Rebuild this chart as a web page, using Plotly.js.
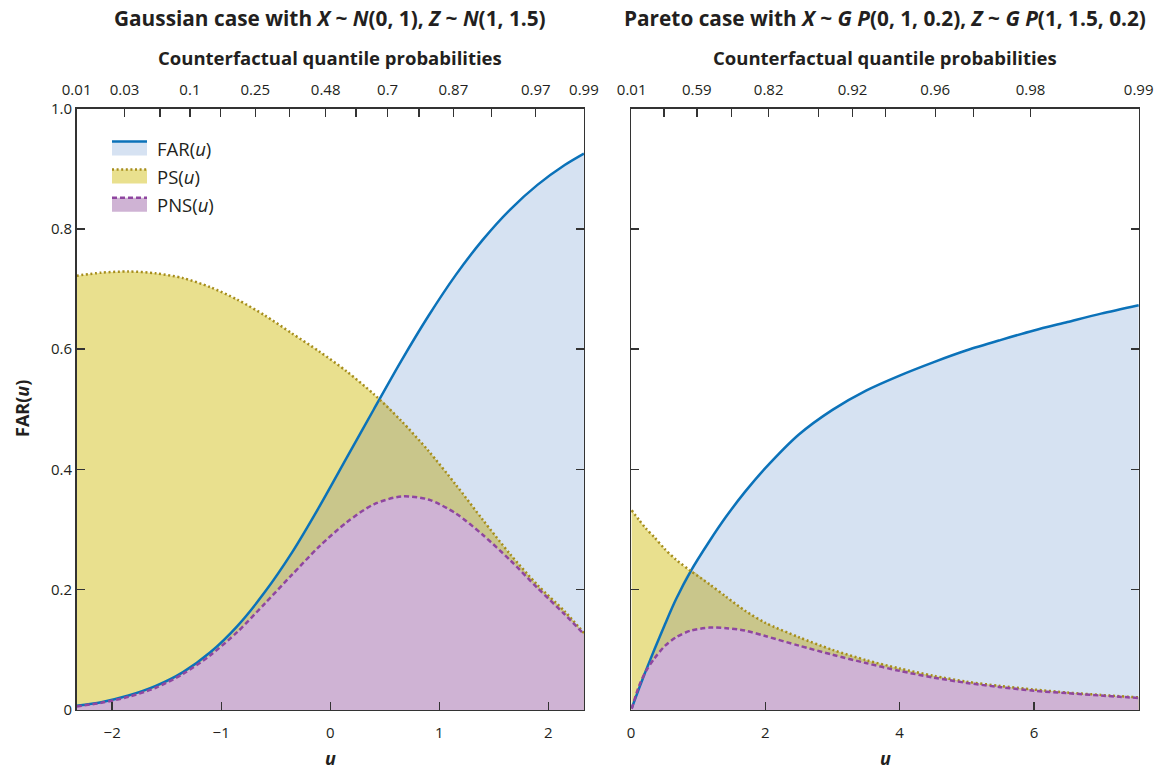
<!DOCTYPE html>
<html><head><meta charset="utf-8">
<script src="https://cdn.plot.ly/plotly-3.0.1.min.js"></script>
<style>html,body{margin:0;padding:0;background:#fff}#chart{width:1164px;height:772px}</style>
</head><body><div id="chart"></div>
<script>
// ---- Gaussian case (left panel) ----
const gaussU   = [-2.326,-2.1,-1.85,-1.6,-1.35,-1.1,-0.85,-0.6,-0.35,-0.1,0.15,0.4,0.65,0.9,1.15,1.4,1.65,1.9,2.15,2.326];
const gaussFAR = [0.007,0.013,0.024,0.040,0.063,0.096,0.140,0.196,0.262,0.338,0.419,0.500,0.580,0.655,0.723,0.782,0.832,0.873,0.906,0.925];
const gaussPS  = [0.722,0.727,0.729,0.726,0.718,0.703,0.682,0.656,0.626,0.596,0.563,0.525,0.481,0.431,0.375,0.316,0.259,0.208,0.164,0.128];
const gaussPNS = [0.006,0.012,0.022,0.037,0.060,0.091,0.130,0.177,0.225,0.272,0.312,0.342,0.355,0.350,0.327,0.291,0.249,0.203,0.159,0.126];

// ---- Pareto case (right panel) ----
const paretoU   = [0.01,0.12,0.22,0.35,0.5,0.67,0.89,1.17,1.42,1.7,2.0,2.5,3.0,3.5,4.0,4.5,5.0,5.5,6.0,6.5,7.0,7.56];
const paretoFAR = [0.003,0.036,0.065,0.101,0.141,0.184,0.231,0.281,0.322,0.363,0.402,0.458,0.499,0.531,0.556,0.578,0.598,0.615,0.631,0.645,0.659,0.673];
const paretoPS  = [0.332,0.316,0.302,0.287,0.268,0.250,0.231,0.209,0.188,0.165,0.145,0.121,0.100,0.083,0.069,0.057,0.047,0.040,0.034,0.029,0.025,0.021];
const paretoPNS = [0.002,0.040,0.064,0.086,0.106,0.121,0.132,0.137,0.136,0.132,0.123,0.107,0.092,0.078,0.065,0.054,0.045,0.038,0.032,0.028,0.024,0.020];

// ---- axis ticks ----
const yTickVals = [0,0.2,0.4,0.6,0.8,1.0];
const yTickText = ['0','0.2','0.4','0.6','0.8','1.0'];
const gaussBottomVals = [-2,-1,0,1,2];
const gaussBottomText = ['\u22122','\u22121','0','1','2'];
const paretoBottomVals = [0,2,4,6];
const paretoBottomText = ['0','2','4','6'];
const gaussTopVals = [-2.326,-1.887,-1.563,-1.287,-1.005,-0.687,-0.372,-0.042,0.237,0.526,0.815,1.129,1.479,1.885,2.326];
const gaussTopText = ['0.01','0.03','','0.1','','0.25','','0.48','','0.7','','0.87','','0.97','0.99'];
const paretoTopVals = [0.01,0.49,0.98,1.50,2.05,2.79,3.30,3.79,4.53,5.10,5.95,7.56];
const paretoTopText = ['0.01','','0.59','','0.82','','0.92','','0.96','','0.98','0.99'];

const C = {
  farLine:'#0b72b9', farFill:'#d6e2f2',
  psLine:'#a68d1c', psFill:'#e9e08e',
  overlap:'#c9c68b',
  pnsLine:'#8f46a0', pnsFill:'#cfb3d4'
};
const FONT = '"Open Sans", "Noto Sans", sans-serif';
const TXT = '#231f20';

function lowerEnvelope(x, a, b){
  const xs=[], ys=[];
  for(let i=0;i<x.length;i++){
    xs.push(x[i]); ys.push(Math.min(a[i],b[i]));
    if(i<x.length-1){
      const d0=a[i]-b[i], d1=a[i+1]-b[i+1];
      if(d0*d1<0){
        const t=d0/(d0-d1);
        xs.push(x[i]+t*(x[i+1]-x[i])); ys.push(a[i]+t*(a[i+1]-a[i]));
      }
    }
  }
  return {x:xs,y:ys};
}

const SM = 0.8;
function panel(u, far, ps, pns, xa, ya){
  const env = lowerEnvelope(u, far, ps);
  const fill = (x,y,col)=>({x:x,y:y,xaxis:xa,yaxis:ya,type:'scatter',mode:'lines',fill:'tozeroy',
      fillcolor:col,line:{width:0,shape:'spline',smoothing:SM},showlegend:false,hoverinfo:'skip'});
  const line = (y,col,dash)=>({x:u,y:y,xaxis:xa,yaxis:ya,type:'scatter',mode:'lines',
      line:{color:col,width:2.5,dash:dash,shape:'spline',smoothing:SM},showlegend:false,hoverinfo:'skip'});
  return [
    fill(u,far,C.farFill), fill(u,ps,C.psFill), fill(env.x,env.y,C.overlap), fill(u,pns,C.pnsFill),
    line(far,C.farLine,'solid'), line(ps,C.psLine,'2px,2.6px'), line(pns,C.pnsLine,'5px,3px')
  ];
}

const legendTraces = [
  {name:'FAR(<i>u</i>)', col:C.farLine, fc:C.farFill, dash:'solid'},
  {name:'PS(<i>u</i>)', col:C.psLine, fc:C.psFill, dash:'2px,2.6px'},
  {name:'PNS(<i>u</i>)', col:C.pnsLine, fc:C.pnsFill, dash:'5px,3px'}
].map((d,i)=>({x:[null],y:[null],type:'scatter',mode:'lines',fill:'tozeroy',fillcolor:d.fc,
  line:{color:d.col,width:2.5,dash:d.dash},name:d.name,legendgroup:'g'+i,showlegend:true,xaxis:'x',yaxis:'y'}));

// invisible carriers so the top (probability) axes are drawn
const topCarriers = [
  {x:[null],y:[null],xaxis:'x3',yaxis:'y',type:'scatter',mode:'lines',showlegend:false,hoverinfo:'skip'},
  {x:[null],y:[null],xaxis:'x4',yaxis:'y2',type:'scatter',mode:'lines',showlegend:false,hoverinfo:'skip'}
];

const data = [].concat(
  panel(gaussU,gaussFAR,gaussPS,gaussPNS,'x','y'),
  panel(paretoU,paretoFAR,paretoPS,paretoPNS,'x2','y2'),
  topCarriers,
  legendTraces
);

const W=1164,H=772;
const L1=76.5,R1=584,L2=631,R2=1139,T=108.5,B=710;
const xd1=[L1/W,R1/W], xd2=[L2/W,R2/W], yd=[1-B/H,1-T/H];
const axCol='#333';
const tf={family:FONT,size:15,color:TXT};
const baseX = {showgrid:false,zeroline:false,ticks:'inside',ticklen:8,tickwidth:1.4,tickcolor:axCol,
  showline:true,linecolor:axCol,linewidth:1.4,tickfont:tf,tickmode:'array',fixedrange:true};
const baseY = Object.assign({},baseX,{mirror:'ticks',range:[0,1],tickvals:yTickVals,ticktext:yTickText,ticklabelstandoff:0});

const layout = {
  width:W,height:H,margin:{l:0,r:0,t:0,b:0},paper_bgcolor:'#fff',plot_bgcolor:'#fff',
  font:{family:FONT,color:TXT},
  xaxis: Object.assign({},baseX,{domain:xd1,anchor:'y',range:[-2.327,2.327],mirror:true,
    tickvals:gaussBottomVals,ticktext:gaussBottomText,ticklabelstandoff:9}),
  yaxis: Object.assign({},baseY,{domain:yd,anchor:'x'}),
  xaxis2: Object.assign({},baseX,{domain:xd2,anchor:'y2',range:[0,7.565],mirror:true,
    tickvals:paretoBottomVals,ticktext:paretoBottomText,ticklabelstandoff:9}),
  yaxis2: Object.assign({},baseY,{domain:yd,anchor:'x2',showticklabels:false}),
  xaxis3: Object.assign({},baseX,{overlaying:'x',anchor:'y',side:'top',range:[-2.327,2.327],showline:false,
    tickvals:gaussTopVals,ticktext:gaussTopText,ticklabelstandoff:10}),
  xaxis4: Object.assign({},baseX,{overlaying:'x2',anchor:'y2',side:'top',range:[0,7.565],showline:false,
    tickvals:paretoTopVals,ticktext:paretoTopText,ticklabelstandoff:10}),
  showlegend:true,
  legend:{x:107/W,y:1-130/H,xanchor:'left',yanchor:'top',bgcolor:'rgba(0,0,0,0)',traceorder:'grouped',
    font:{family:FONT,size:18.5,color:TXT},tracegroupgap:1,itemwidth:40},
  annotations:[
    {text:'<b>Gaussian case with <i>X</i> ~ <i>N</i>(0, 1), <i>Z</i> ~ <i>N</i>(1, 1.5)</b>',x:(L1+R1)/2/W,y:1-18/H,size:20.8},
    {text:'<b>Pareto case with <i>X</i> ~ <i>G P</i>(0, 1, 0.2), <i>Z</i> ~ <i>G P</i>(1, 1.5, 0.2)</b>',x:(L2+R2)/2/W,y:1-18/H,size:20.8},
    {text:'<b>Counterfactual quantile probabilities</b>',x:(L1+R1)/2/W,y:1-57/H,size:18.5},
    {text:'<b>Counterfactual quantile probabilities</b>',x:(L2+R2)/2/W,y:1-57/H,size:18.5},
    {text:'<b><i>u</i></b>',x:(L1+R1)/2/W,y:0,yanchor:'bottom'},
    {text:'<b><i>u</i></b>',x:(L2+R2)/2/W,y:0,yanchor:'bottom'},
    {text:'<b>FAR(<i>u</i>)</b>',x:22/W,y:1-409/H,textangle:-90}
  ].map(a=>{
    const sz=a.size||18; delete a.size;
    return Object.assign({xref:'paper',yref:'paper',showarrow:false,xanchor:'center',yanchor:'middle',
      font:{family:FONT,size:sz,color:TXT}},a);
  })
};

Plotly.newPlot('chart',data,layout,{displayModeBar:false,staticPlot:true}).then(gd=>{
  // enlarge the legend swatches: line on top, filled box below
  gd.querySelectorAll('.legend .traces').forEach(tr=>{
    tr.querySelectorAll('.legendfill path').forEach(p=>p.setAttribute('d','M5,-7h35v14h-35z'));
    tr.querySelectorAll('.legendlines path').forEach(p=>p.setAttribute('d','M5,-7h35'));
  });
});
</script></body></html>
